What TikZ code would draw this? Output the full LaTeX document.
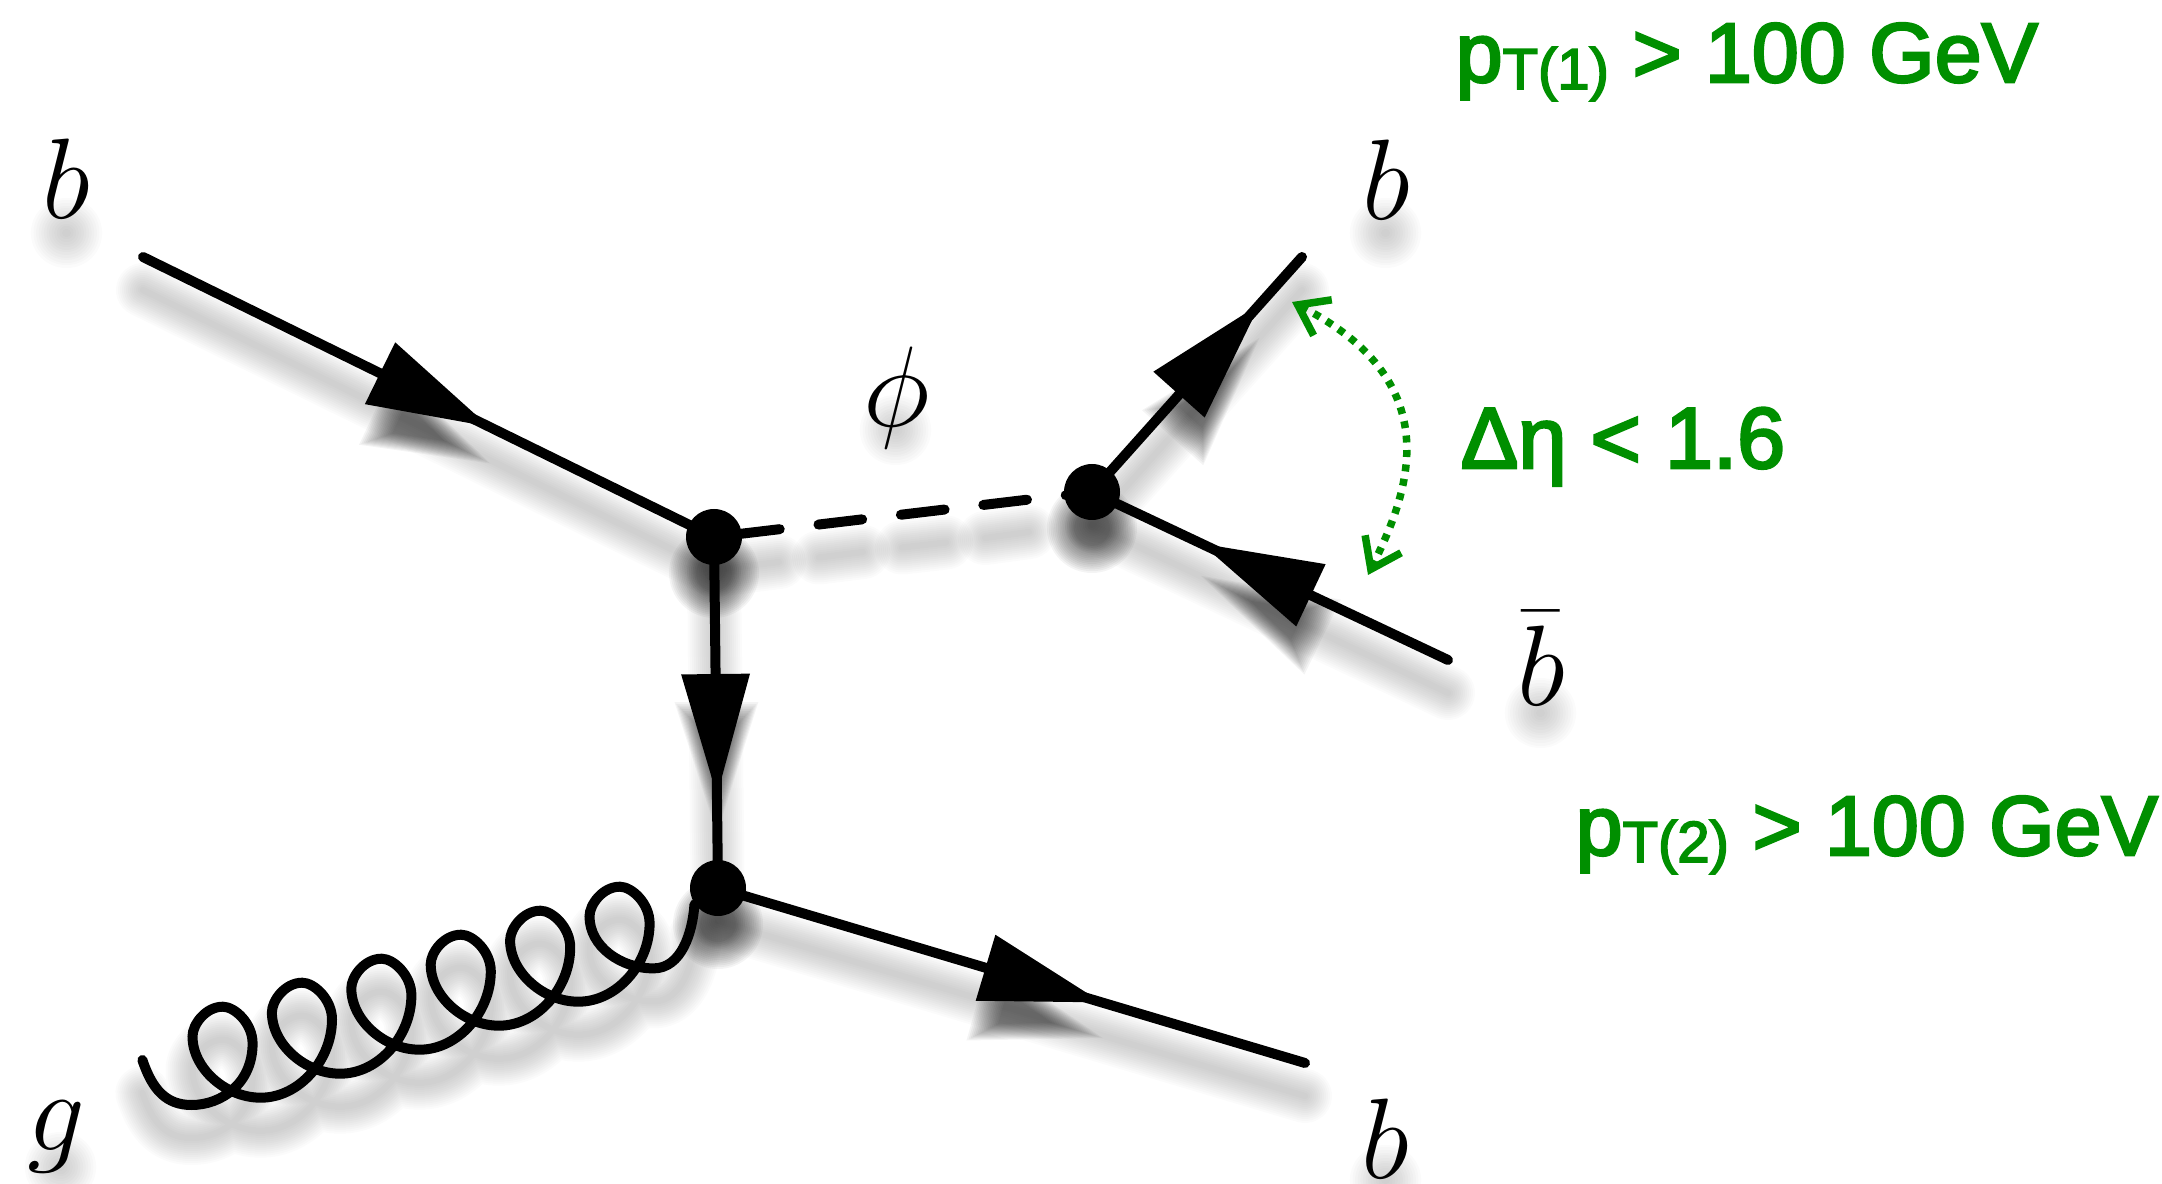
\documentclass[tikz,border=0pt]{standalone}
\usepackage{fontspec}
\setmainfont[FakeBold=3]{Liberation Sans}
\usetikzlibrary{arrows.meta,decorations.markings}
\definecolor{cutgreen}{RGB}{0,143,0}
% stacked see-through strokes stand in for the blurred drop shadow
\newcommand{\softshadow}[2][1]{%
  \foreach \w in {.06,.10,...,.58}{\draw[shadowlayer, line width={#1*\w*1cm}] #2;}}
% same idea for filled shapes: #1 is the middle of the shape
\newcommand{\softblob}[2]{%
  \foreach \w in {.5,.55,...,1.3}{\fill[black, fill opacity=.042, shift={(0,-.36)}, scale around={\w:#1}] #2;}}
\newcommand{\ptcut}[1]{p\raisebox{-2pt}{\fontsize{16.5}{16.5}\selectfont T(#1)}}
% one turn of the gluon, right side of a loop to right side of the next
\newcommand{\gluonloop}{%
  .. controls +(0,.2) and +(.12,0) .. ++(-.298,.367)
  .. controls +(-.17,0) and +(0,.12) .. ++(-.303,-.297)
  .. controls +(0,-.32) and +(-.35,0) .. ++(.682,-.613)
  .. controls +(.39,0) and +(0,-.4) .. ++(.713,.783)}
\newcommand{\gluonbody}{%
  .. controls +(.1,-.3) and +(-.25,0) .. (1.915,.78)
  .. controls +(.3,0) and +(0,-.4) .. (2.526,1.396)
  \gluonloop \gluonloop \gluonloop \gluonloop \gluonloop
  .. controls +(0,.2) and +(.12,0) .. ++(-.298,.367)
  .. controls +(-.17,0) and +(0,.12) .. ++(-.303,-.297)
  .. controls +(0,-.3) and +(-.33,0) .. ++(.64,-.52)
  .. controls +(.28,0) and +(-.02,-.28) ..}

\begin{document}
\begin{tikzpicture}[
  shadowlayer/.style={shift={(0,-.33)}, draw=black, draw opacity=.014, line cap=round, line join=round},
  fermion/.style={draw=black, line width=.1cm, line cap=round},
  midarrow/.style={postaction={decorate}, decoration={markings,
    mark=at position #1 with {\arrow{Triangle[length=12.2mm,width=6.6mm]}}}},
  scalar/.style={draw=black, line width=.1cm, line cap=round, dash pattern=on .44cm off .39cm, dash phase=.608cm},
  gluon/.style={draw=black, line width=.1cm, line cap=round},
  vertex/.style={circle, fill=black, minimum size=5.6mm, inner sep=0pt},
  partlabel/.style={anchor=base, font=\Huge, scale=1.31, inner sep=0pt},
  cutlabel/.style={anchor=base west, text=cutgreen, font=\fontsize{24}{24}\selectfont, inner sep=0pt},
  rangearrow/.style={draw=cutgreen, line width=.075cm, dash pattern=on .07cm off .075cm,
    {Straight Barb[length=2.8mm,width=4mm]}-{Straight Barb[length=2.8mm,width=4mm]}},
]
\useasboundingbox (0,0) rectangle (21.62,11.83);

% ===== Shadows =====
\softshadow{(1.43,9.26) -- (7.14,6.46)}
\softshadow{(7.14,6.46) -- (7.18,2.95)}
\softshadow{(7.18,2.95) -- (13.05,1.20)}
\softshadow{(10.92,6.91) -- (13.02,9.26)}
\softshadow{(14.48,5.23) -- (10.92,6.91)}
\softshadow{(7.14,6.46) -- (7.79,6.54)}
\softshadow{(8.19,6.585) -- (8.63,6.64)}
\softshadow{(9.02,6.685) -- (9.46,6.735)}
\softshadow{(9.85,6.78) -- (10.29,6.84)}
\softshadow{(1.424,1.23) \gluonbody (6.95,2.79)}
\softblob{(4.14,7.93)}{(4.75,7.63) -- (3.98,8.37) -- (3.70,7.78) -- cycle}
\softblob{(7.17,4.73)}{(7.17,4.03) -- (6.83,5.08) -- (7.50,5.08) -- cycle}
\softblob{(10.19,2.06)}{(10.86,1.86) -- (9.95,2.48) -- (9.77,1.84) -- cycle}
\softblob{(12.02,8.15)}{(12.48,8.68) -- (11.54,8.10) -- (12.03,7.66) -- cycle}
\softblob{(12.82,6.02)}{(12.17,6.35) -- (13.29,6.16) -- (13.00,5.56) -- cycle}
\softblob{(7.14,6.46)}{(7.14,6.46) circle (.36)}
\softblob{(7.18,2.95)}{(7.18,2.95) circle (.36)}
\softblob{(10.92,6.91)}{(10.92,6.91) circle (.36)}
% behind the letters
\softshadow[1.3]{(.66,9.83) -- (.67,9.83)}
\softshadow[1.3]{(13.85,9.83) -- (13.86,9.83)}
\softshadow[1.3]{(13.85,.36) -- (13.86,.36)}
\softshadow[1.3]{(15.40,5.03) -- (15.41,5.03)}
\softshadow[1.3]{(.60,.49) -- (.61,.49)}
\softshadow[1.3]{(8.95,7.86) -- (8.96,7.86)}

% ===== Vertices =====
\node[vertex] (vA) at (7.14,6.46) {};
\node[vertex] (vB) at (7.18,2.95) {};
\node[vertex] (vC) at (10.92,6.91) {};

% ===== Free ends =====
\coordinate (bIn) at (1.43,9.26);
\coordinate (gIn) at (1.424,1.23);
\coordinate (bOutA) at (13.02,9.26);
\coordinate (bbarOut) at (14.48,5.23);
\coordinate (bOutB) at (13.05,1.20);
\coordinate (rangeTop) at (12.92,8.81);
\coordinate (rangeBot) at (13.68,6.08);

% ===== Lines =====
\draw[fermion, midarrow=.607] (bIn) -- (vA.center);
\draw[fermion, midarrow=.738] (vA.center) -- (vB.center);
\draw[fermion, midarrow=.655] (vB.center) -- (bOutB);
\draw[fermion, midarrow=.803] (vC.center) -- (bOutA);
\draw[fermion, midarrow=.695] (bbarOut) -- (vC.center);
\draw[scalar] (vA.center) -- (vC.center);
\draw[gluon] (gIn) \gluonbody (vB.215);
\draw[rangearrow] (rangeTop) .. controls +(-27:1.84) and +(64:.82) .. (rangeBot);

% ===== Labels =====
\node[partlabel] (lblbIn) at (.66,9.64) {$b$};
\node[partlabel] (lblbOutA) at (13.86,9.63) {$b$};
\node[partlabel] (lblbbar) at (15.41,4.77) {$\bar{b}$};
\node[partlabel] (lblbOutB) at (13.85,.05) {$b$};
\node[partlabel] (lblg) at (.56,.33) {$g$};
\node[partlabel] (lblphi) at (8.97,7.56) {$\phi$};
\node[cutlabel] (cutA) at (14.55,11.01) {\ptcut{1} > 100 GeV};
\node[cutlabel] (cutB) at (15.75,3.28) {\ptcut{2} > 100 GeV};
\node[cutlabel, font=\fontsize{24.6}{24.6}\selectfont] (cutEta) at (14.60,7.15) {Δη < 1.6};
\end{tikzpicture}
\end{document}
